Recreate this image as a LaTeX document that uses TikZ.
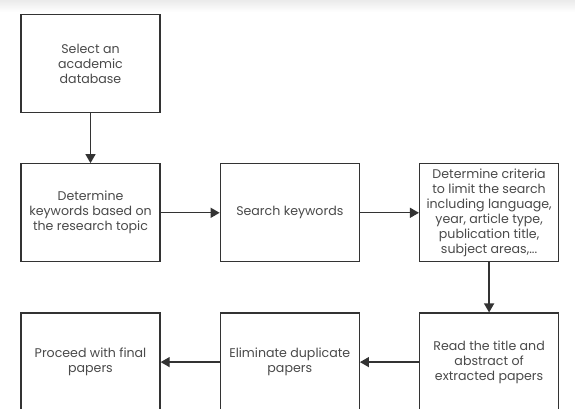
\documentclass[tikz,border=0pt]{standalone}
\usepackage{fontspec}
\setmainfont{Poppins}
\usepackage{xcolor}
\usepackage{tikz}
\usetikzlibrary{positioning,arrows.meta}

\definecolor{linegray}{HTML}{333333}
\definecolor{textgray}{HTML}{4A4A4A}

\tikzset{
  box/.style={draw=linegray, line width=1.3pt, fill=white,
    minimum width=139pt, minimum height=98pt, inner sep=2pt,
    align=center, text=textgray, font=\fontsize{12.6}{15}\selectfont},
  arr/.style={draw=linegray, line width=1.3pt,
    -{Triangle[length=9pt,width=10pt]}}
}

\begin{document}
\begin{tikzpicture}[x=1pt, y=1pt]
  \useasboundingbox (0,0) rectangle (575,-409);
  % faint band at the top
  \shade[top color=black!8, bottom color=white] (0,0) rectangle (575,-12);

  % Row 1
  \node[box] (db) at (90.5,-63.5) {Select an\\academic\\database};

  % Row 2
  \node[box, below=50pt of db] (kw) {Determine\\keywords based on\\the research topic};
  \node[box, right=59pt of kw] (search) {Search keywords};
  \node[box, right=59pt of search] (crit) {Determine criteria\\to limit the search\\including language,\\year, article type,\\publication title,\\subject areas,...};

  % Row 3
  \node[box, below=50pt of crit] (read) {Read the title and\\abstract of\\extracted papers};
  \node[box, left=59pt of read] (dup) {Eliminate duplicate\\papers};
  \node[box, left=59pt of dup] (final) {Proceed with final\\papers};

  % Arrows
  \draw[arr] (db) -- (kw);
  \draw[arr] (kw) -- (search);
  \draw[arr] (search) -- (crit);
  \draw[arr] (crit) -- (read);
  \draw[arr] (read) -- (dup);
  \draw[arr] (dup) -- (final);
\end{tikzpicture}
\end{document}
